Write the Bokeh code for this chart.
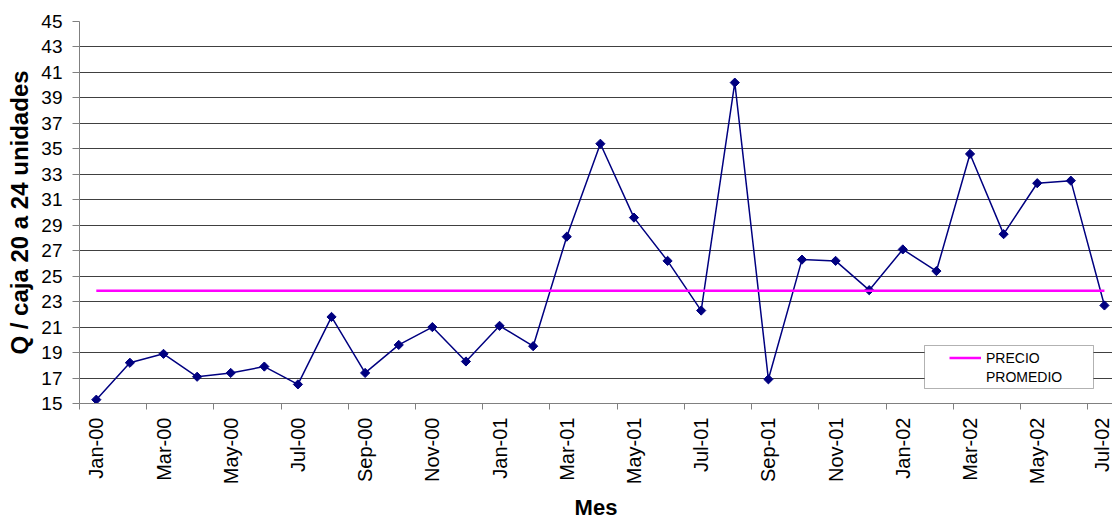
import math
from bokeh.plotting import figure
from bokeh.models import (FixedTicker, Range1d, Legend, LegendItem, BoxAnnotation)
from bokeh.embed import file_html
from bokeh.resources import INLINE

# Monthly price per box (20 to 24 units), Jan-2000 .. Jul-2002
meses = ["Jan-00", "Feb-00", "Mar-00", "Apr-00", "May-00", "Jun-00", "Jul-00",
         "Aug-00", "Sep-00", "Oct-00", "Nov-00", "Dec-00",
         "Jan-01", "Feb-01", "Mar-01", "Apr-01", "May-01", "Jun-01", "Jul-01",
         "Aug-01", "Sep-01", "Oct-01", "Nov-01", "Dec-01",
         "Jan-02", "Feb-02", "Mar-02", "Apr-02", "May-02", "Jun-02", "Jul-02"]
precio = [15.3, 18.2, 18.9, 17.1, 17.4, 17.9, 16.5, 21.8, 17.4, 19.6, 21.0, 18.3,
          21.1, 19.5, 28.1, 35.4, 29.6, 26.2, 22.3, 40.2, 16.9, 26.3, 26.2, 23.9,
          27.1, 25.4, 34.6, 28.3, 32.3, 32.5, 22.7]
precio_promedio = 23.85
y_ticks = list(range(15, 46, 2))

idx = list(range(len(meses)))
promedio = [precio_promedio] * len(meses)

FONT = "Liberation Sans"

p = figure(width=1112, height=523, output_backend="svg", toolbar_location=None,
           x_range=Range1d(-0.5, 30.24), y_range=Range1d(15, 45),
           min_border_left=79, min_border_right=0, min_border_top=21,
           min_border_bottom=120)
p.outline_line_color = None
p.background_fill_color = "white"
p.border_fill_color = "white"

# x axis: labels every other month at category centers, ticks on category edges
xax = p.xaxis[0]
xax.ticker = FixedTicker(ticks=idx[::2], minor_ticks=[i - 0.5 for i in idx[::2]])
xax.major_label_overrides = {i: meses[i] for i in idx[::2]}
xax.major_label_orientation = math.pi / 2
xax.major_label_text_font = FONT
xax.major_label_text_font_size = "20px"
xax.major_label_text_color = "black"
xax.major_tick_line_color = None
xax.major_tick_out = 6
xax.major_tick_in = 0
xax.minor_tick_line_color = "#808080"
xax.minor_tick_out = 6
xax.minor_tick_in = 0
xax.major_label_standoff = 8
xax.axis_line_color = "#808080"
xax.axis_label = "Mes"
xax.axis_label_text_font = FONT
xax.axis_label_text_font_size = "22px"
xax.axis_label_text_font_style = "bold"
xax.axis_label_text_color = "black"
xax.axis_label_standoff = 8

yax = p.yaxis[0]
yax.ticker = FixedTicker(ticks=y_ticks, minor_ticks=[])
yax.major_label_text_font = FONT
yax.major_label_text_font_size = "19px"
yax.major_label_text_color = "black"
yax.major_tick_line_color = "#808080"
yax.major_tick_out = 7
yax.major_tick_in = 0
yax.major_label_standoff = 10
yax.axis_line_color = "#808080"
yax.axis_label = "Q / caja 20 a 24 unidades"
yax.axis_label_text_font = FONT
yax.axis_label_text_font_size = "24px"
yax.axis_label_text_font_style = "bold"
yax.axis_label_text_color = "black"
yax.axis_label_standoff = 5

p.xgrid.grid_line_color = None
p.ygrid.grid_line_color = "#404040"
p.ygrid.grid_line_width = 1

# monthly price series
p.line(idx, precio, line_color="#000080", line_width=1.5)
p.scatter(idx, precio, marker="square", angle=math.pi / 4, size=6.5,
          fill_color="#000080", line_color="#000080")

# average price line
r_prom = p.line(idx, promedio, line_color="#FF00FF", line_width=2.5)
r_blank = p.line([], [], line_alpha=0)

# legend frame
box = BoxAnnotation(left=924, right=1093, top=345, bottom=388,
                    left_units="canvas", right_units="canvas",
                    top_units="canvas", bottom_units="canvas",
                    fill_color="white", fill_alpha=1.0,
                    line_color="black", line_width=1)
p.add_layout(box)

legend = Legend(items=[LegendItem(label="PRECIO", renderers=[r_prom]),
                       LegendItem(label="PROMEDIO", renderers=[r_blank])],
                location=(870, 17), orientation="vertical",
                label_text_font=FONT, label_text_font_size="14px",
                label_text_color="black",
                glyph_width=32, glyph_height=19, label_height=19,
                label_standoff=5, spacing=0, padding=0, margin=0,
                border_line_color=None, background_fill_alpha=0)
p.add_layout(legend)

open("out.html", "w").write(file_html(p, INLINE))
